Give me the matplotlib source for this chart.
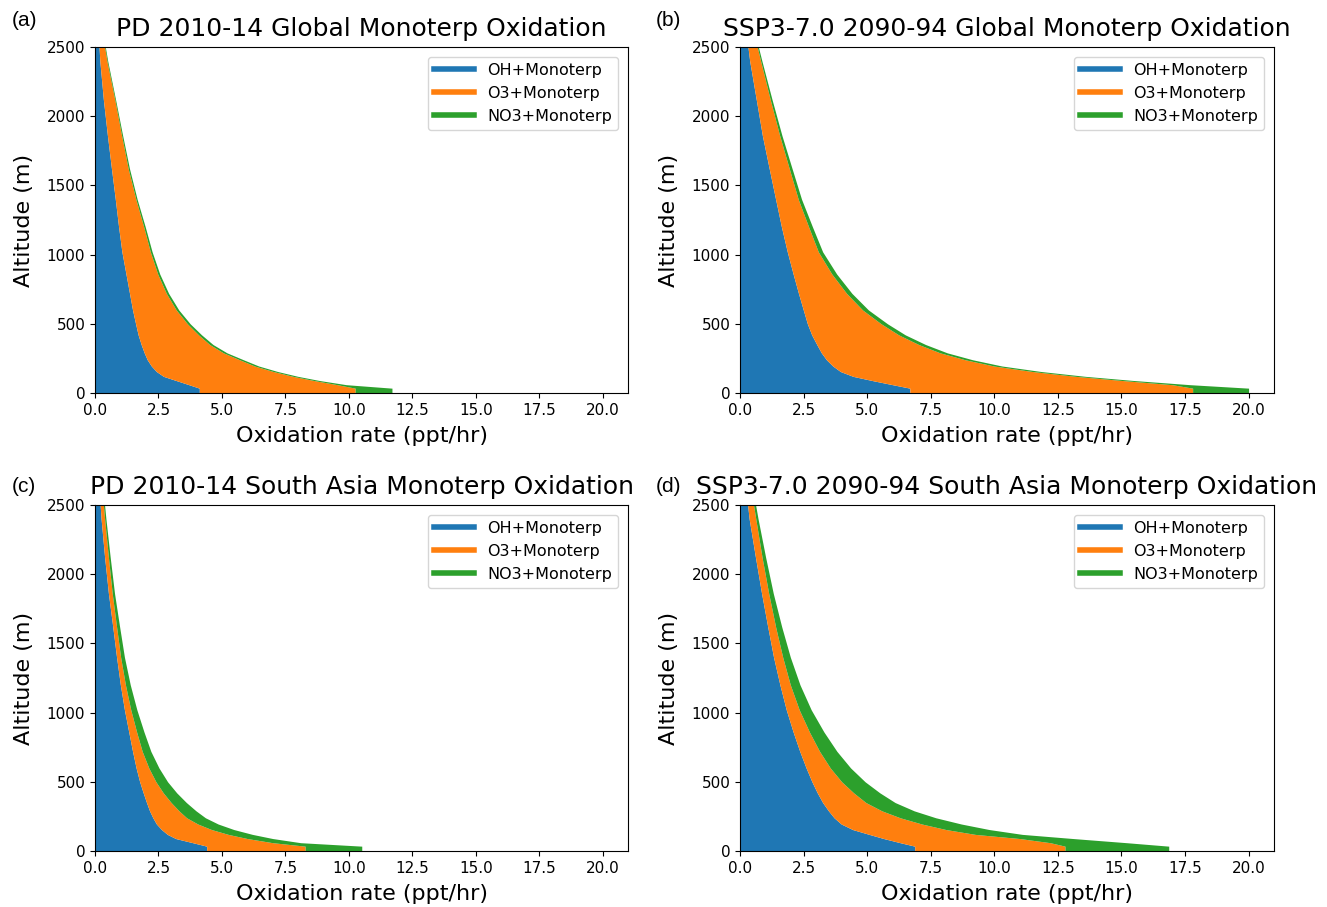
import matplotlib
matplotlib.use("Agg")
import matplotlib.pyplot as plt
from matplotlib.lines import Line2D
import numpy as np

# Altitude levels (m)
altitude = [0, 35, 60, 90, 120, 155, 195, 240, 290, 350, 420, 500, 600, 720, 860,
            1020, 1200, 1400, 1620, 1860, 2120, 2400, 2700]

# (a) PD 2010-14 Global  (ppt/hr)
oh_a  = [4.11, 4.11, 3.70, 3.20, 2.70, 2.42, 2.22, 2.06, 1.94, 1.82, 1.70, 1.60, 1.48, 1.36, 1.22,
         1.06, 0.93, 0.80, 0.65, 0.49, 0.33, 0.19, 0.10]
o3_a  = [6.14, 6.14, 5.85, 5.43, 5.11, 4.61, 4.07, 3.64, 3.12, 2.70, 2.38, 2.04, 1.72, 1.45, 1.25,
         1.12, 0.99, 0.81, 0.66, 0.56, 0.45, 0.28, 0.10]
no3_a = [1.45, 1.45, 0.35, 0.22, 0.19, 0.17, 0.16, 0.15, 0.14, 0.13, 0.12, 0.11, 0.10, 0.09, 0.08,
         0.07, 0.06, 0.05, 0.05, 0.04, 0.03, 0.03, 0.02]

# (b) SSP3-7.0 2090-94 Global
oh_b  = [6.68, 6.68, 6.00, 5.20, 4.45, 3.95, 3.65, 3.40, 3.20, 3.02, 2.82, 2.65, 2.49, 2.30, 2.09,
         1.86, 1.63, 1.40, 1.15, 0.88, 0.64, 0.38, 0.18]
o3_b  = [11.12, 11.12, 11.00, 9.85, 8.77, 7.56, 6.34, 5.46, 4.67, 4.01, 3.42, 2.90, 2.33, 1.89, 1.52,
         1.22, 1.07, 0.89, 0.79, 0.68, 0.55, 0.43, 0.24]
no3_b = [2.20, 2.20, 0.70, 0.45, 0.38, 0.34, 0.31, 0.29, 0.28, 0.27, 0.26, 0.25, 0.23, 0.21, 0.19,
         0.17, 0.15, 0.13, 0.11, 0.09, 0.07, 0.05, 0.03]

# (c) PD 2010-14 South Asia
oh_c  = [4.40, 4.40, 3.85, 3.18, 2.85, 2.62, 2.42, 2.28, 2.15, 2.03, 1.90, 1.76, 1.62, 1.48, 1.33,
         1.16, 1.00, 0.85, 0.70, 0.53, 0.38, 0.24, 0.13]
o3_c  = [3.88, 3.88, 3.15, 2.82, 2.40, 1.97, 1.63, 1.33, 1.16, 0.97, 0.79, 0.64, 0.50, 0.38, 0.31,
         0.25, 0.20, 0.16, 0.15, 0.15, 0.15, 0.14, 0.10]
no3_c = [2.23, 2.23, 1.10, 1.00, 0.95, 0.88, 0.80, 0.74, 0.67, 0.60, 0.53, 0.46, 0.40, 0.34, 0.29,
         0.24, 0.19, 0.15, 0.12, 0.09, 0.07, 0.05, 0.04]

# (d) SSP3-7.0 2090-94 South Asia
oh_d  = [6.87, 6.87, 6.30, 5.65, 5.08, 4.43, 3.98, 3.70, 3.48, 3.25, 3.04, 2.83, 2.60, 2.35, 2.09,
         1.82, 1.57, 1.32, 1.09, 0.85, 0.61, 0.36, 0.18]
o3_d  = [5.91, 5.91, 5.90, 5.35, 4.17, 3.67, 3.17, 2.60, 2.10, 1.70, 1.43, 1.17, 0.95, 0.78, 0.64,
         0.51, 0.41, 0.36, 0.31, 0.28, 0.26, 0.26, 0.18]
no3_d = [4.08, 4.08, 3.00, 2.10, 1.85, 1.70, 1.55, 1.40, 1.27, 1.15, 1.03, 0.92, 0.80, 0.68, 0.57,
         0.47, 0.38, 0.30, 0.24, 0.18, 0.14, 0.09, 0.06]

titles = ["PD 2010-14 Global Monoterp Oxidation",
          "SSP3-7.0 2090-94 Global Monoterp Oxidation",
          "PD 2010-14 South Asia Monoterp Oxidation",
          "SSP3-7.0 2090-94 South Asia Monoterp Oxidation"]
panel_labels = ["(a)", "(b)", "(c)", "(d)"]
series_names = ["OH+Monoterp", "O3+Monoterp", "NO3+Monoterp"]
colors = ["#1f77b4", "#ff7f0e", "#2ca02c"]
x_ticks = [0.0, 2.5, 5.0, 7.5, 10.0, 12.5, 15.0, 17.5, 20.0]
y_ticks = [0, 500, 1000, 1500, 2000, 2500]

data = [(oh_a, o3_a, no3_a), (oh_b, o3_b, no3_b), (oh_c, o3_c, no3_c), (oh_d, o3_d, no3_d)]

W, H = 1327, 907
fig = plt.figure(figsize=(W / 100, H / 100), dpi=100)

# axes boxes in pixels: left, right, top, bottom
boxes = [(95, 628, 47, 393), (740, 1274, 47, 393), (95, 628, 505, 851), (740, 1274, 505, 851)]
label_pos = [(12, 21), (656, 21), (12, 486), (656, 486)]

alt = np.array(altitude, dtype=float)
for i, (l, r, t, b) in enumerate(boxes):
    ax = fig.add_axes([l / W, (H - b) / H, (r - l) / W, (b - t) / H])
    oh, o3, no3 = [np.array(s, dtype=float) for s in data[i]]
    c1 = oh
    c2 = oh + o3
    c3 = oh + o3 + no3
    ax.fill_betweenx(alt, 0, c1, color=colors[0], lw=0)
    ax.fill_betweenx(alt, c1, c2, color=colors[1], lw=0)
    ax.fill_betweenx(alt, c2, c3, color=colors[2], lw=0)
    ax.set_xlim(0, 21)
    ax.set_ylim(0, 2500)
    ax.set_xticks(x_ticks)
    ax.set_xticklabels([f"{v:.1f}" for v in x_ticks])
    ax.set_yticks(y_ticks)
    ax.tick_params(labelsize=11)
    ax.set_title(titles[i], fontsize=18, pad=8)
    ax.set_xlabel("Oxidation rate (ppt/hr)", fontsize=16, labelpad=6)
    ax.set_ylabel("Altitude (m)", fontsize=16, labelpad=9)
    handles = [Line2D([0], [0], color=c, lw=4) for c in colors]
    ax.legend(handles, series_names, loc="upper right", fontsize=11.5,
              handlelength=2.5, borderaxespad=0.6)
    fig.text(label_pos[i][0] / W, 1 - label_pos[i][1] / H, panel_labels[i],
             fontsize=15, family="Liberation Sans", va="center", ha="left")

fig.savefig("out.png", dpi=100)
